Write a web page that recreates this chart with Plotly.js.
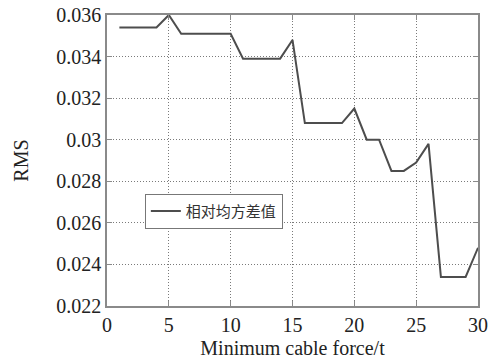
<!DOCTYPE html>
<html>
<head>
<meta charset="utf-8">
<script src="https://cdn.plot.ly/plotly-3.0.1.min.js"></script>
<style>html,body{margin:0;padding:0;background:#fff;}#chart{width:493px;height:360px;}
#warm{position:absolute;left:0;top:0;font-family:"Liberation Serif";font-size:20px;color:#fff;z-index:-1;}</style>
</head>
<body>
<div id="warm">0.0123456789 RMS</div>
<div id="chart"></div>
<script>
const forces = [1,2,3,4,5,6,7,8,9,10,11,12,13,14,15,16,17,18,19,20,21,22,23,24,25,26,27,28,29,30];
const rmsValues = [0.0354,0.0354,0.0354,0.0354,0.0360,0.0351,0.0351,0.0351,0.0351,0.0351,
  0.0339,0.0339,0.0339,0.0339,0.0348,0.0308,0.0308,0.0308,0.0308,0.0315,
  0.0300,0.0300,0.0285,0.0285,0.0289,0.0298,0.0234,0.0234,0.0234,0.0248];
const seriesName = '相对均方差值';
const xTitle = 'Minimum cable force/t';
const yTitle = 'RMS';

const serif = 'Liberation Serif';
function axisCommon() {
  return {
    showline: true, linecolor: '#8a8a8a', linewidth: 1.5, mirror: 'ticks',
    ticks: 'inside', ticklen: 5, tickcolor: '#8a8a8a',
    showgrid: true, gridcolor: '#7a7a7a', griddash: '1px,2px', gridwidth: 1,
    zeroline: false,
    tickfont: {family: serif, size: 20, color: '#222'}
  };
}
const data = [{
  x: forces, y: rmsValues, type: 'scatter', mode: 'lines', name: seriesName,
  line: {color: '#4d4d4d', width: 2}
}];
const layout = {
  width: 493, height: 360,
  font: {family: serif, size: 20, color: '#222'},
  margin: {l: 107, r: 15, t: 15, b: 54},
  paper_bgcolor: 'rgba(0,0,0,0)', plot_bgcolor: '#fff',
  showlegend: true,
  legend: {x: 0.102, y: 0.386, xanchor: 'left', yanchor: 'top',
    bgcolor: '#fff', bordercolor: '#777', borderwidth: 1,
    font: {family: 'Liberation Serif, Noto Sans CJK SC', size: 15, color: '#333'}, itemwidth: 30},
  xaxis: Object.assign(axisCommon(), {
    range: [0, 30], dtick: 5, tick0: 0,
    title: {text: xTitle, font: {family: serif, size: 20, color: '#222'}, standoff: 6}
  }),
  yaxis: Object.assign(axisCommon(), {
    range: [0.022, 0.036], dtick: 0.002, tick0: 0.022,
    title: {text: yTitle, font: {family: serif, size: 20, color: '#222'}, standoff: 22}
  })
};
Plotly.newPlot('chart', data, layout, {displayModeBar: false});
</script>
</body>
</html>
